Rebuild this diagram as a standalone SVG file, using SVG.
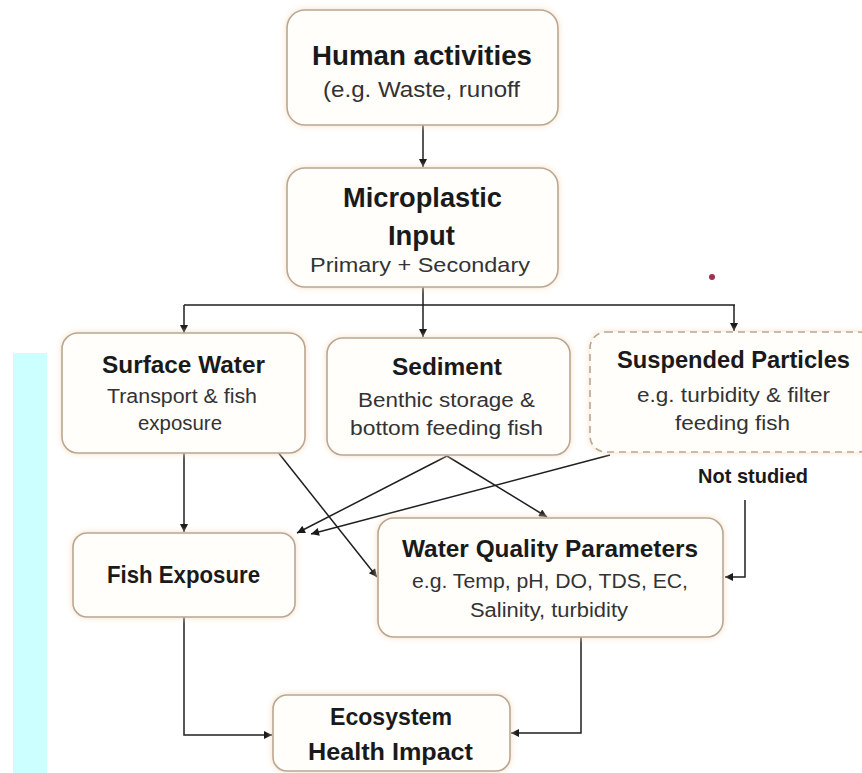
<svg xmlns="http://www.w3.org/2000/svg" width="862" height="773" viewBox="0 0 862 773">
<defs>
<filter id="glow" x="-10%" y="-10%" width="120%" height="120%">
<feDropShadow dx="0" dy="0" stdDeviation="3" flood-color="#f6dcc0" flood-opacity="0.9"/>
</filter>
<marker id="ah" viewBox="0 0 10 10" refX="10" refY="5" markerWidth="10" markerHeight="8" markerUnits="userSpaceOnUse" orient="auto">
<path d="M0,0 L10,5 L0,10 z" fill="#1a1a1a"/>
</marker>
<style>
.box{fill:#fffefb;stroke:#b9a792;stroke-width:1.6;filter:url(#glow)}
.dash{stroke-dasharray:7 5}
.b{font-family:"Liberation Sans",Arial,sans-serif;font-weight:bold;fill:#1a1a1a;text-anchor:middle}
.r{font-family:"Liberation Sans",Arial,sans-serif;fill:#333;text-anchor:middle}
.c{fill:none;stroke:#1f1f1f;stroke-width:1.5}
</style>
</defs>
<rect x="0" y="0" width="862" height="773" fill="#ffffff"/>
<rect x="13" y="353" width="34" height="420" fill="#ccffff"/>
<circle cx="712" cy="277" r="3" fill="#a0304f"/>

<g id="connectors">
<path class="c" d="M423,125 V167" marker-end="url(#ah)"/>
<path class="c" d="M423,287 V305 M184,305 H735"/>
<path class="c" d="M184,305 V333" marker-end="url(#ah)"/>
<path class="c" d="M423,305 V337" marker-end="url(#ah)"/>
<path class="c" d="M734,305 V331" marker-end="url(#ah)"/>
<path class="c" d="M184,453 V532" marker-end="url(#ah)"/>
<path class="c" d="M277,451 L377,577" marker-end="url(#ah)"/>
<path class="c" d="M447,456 L297,533" marker-end="url(#ah)"/>
<path class="c" d="M447,456 L547,517" marker-end="url(#ah)"/>
<path class="c" d="M610,455 L311,534" marker-end="url(#ah)"/>
<path class="c" d="M745,500 V577 H725" marker-end="url(#ah)"/>
<path class="c" d="M184,617 V735 H272" marker-end="url(#ah)"/>
<path class="c" d="M581,637 V733 H511" marker-end="url(#ah)"/>
</g>

<g id="human">
<rect class="box" x="287" y="10" width="271" height="115" rx="18"/>
<text class="b" x="422" y="65" font-size="27" textLength="220" lengthAdjust="spacingAndGlyphs">Human activities</text>
<text class="r" x="421.5" y="97" font-size="22" textLength="197" lengthAdjust="spacingAndGlyphs">(e.g. Waste, runoff</text>
</g>

<g id="microplastic">
<rect class="box" x="287" y="168" width="271" height="119" rx="18"/>
<text class="b" x="422.5" y="207" font-size="27" textLength="159" lengthAdjust="spacingAndGlyphs">Microplastic</text>
<text class="b" x="421.5" y="245" font-size="27" textLength="67" lengthAdjust="spacingAndGlyphs">Input</text>
<text class="r" x="420" y="272" font-size="21" textLength="220" lengthAdjust="spacingAndGlyphs">Primary + Secondary</text>
</g>

<g id="surface">
<rect class="box" x="62" y="333" width="243" height="120" rx="16"/>
<text class="b" x="183.5" y="373" font-size="24" textLength="163" lengthAdjust="spacingAndGlyphs">Surface Water</text>
<text class="r" x="182" y="403" font-size="20" textLength="150" lengthAdjust="spacingAndGlyphs">Transport &amp; fish</text>
<text class="r" x="180" y="430" font-size="20" textLength="84" lengthAdjust="spacingAndGlyphs">exposure</text>
</g>

<g id="sediment">
<rect class="box" x="327" y="338" width="243" height="117" rx="16"/>
<text class="b" x="447" y="375" font-size="24" textLength="110" lengthAdjust="spacingAndGlyphs">Sediment</text>
<text class="r" x="446.5" y="407" font-size="20" textLength="177" lengthAdjust="spacingAndGlyphs">Benthic storage &amp;</text>
<text class="r" x="446.5" y="435" font-size="20" textLength="193" lengthAdjust="spacingAndGlyphs">bottom feeding fish</text>
</g>

<g id="suspended">
<rect class="box dash" x="590" y="332" width="285" height="120" rx="16"/>
<text class="b" x="733.5" y="368" font-size="24" textLength="233" lengthAdjust="spacingAndGlyphs">Suspended Particles</text>
<text class="r" x="733.5" y="402" font-size="20" textLength="193" lengthAdjust="spacingAndGlyphs">e.g. turbidity &amp; filter</text>
<text class="r" x="732.5" y="430" font-size="20" textLength="115" lengthAdjust="spacingAndGlyphs">feeding fish</text>
</g>

<g id="not-studied">
<text class="b" x="753" y="483" font-size="21" textLength="110" lengthAdjust="spacingAndGlyphs">Not studied</text>
</g>

<g id="fish">
<rect class="box" x="73" y="533" width="222" height="84" rx="14"/>
<text class="b" x="183.5" y="583" font-size="24" textLength="153" lengthAdjust="spacingAndGlyphs">Fish Exposure</text>
</g>

<g id="water-quality">
<rect class="box" x="378" y="518" width="345" height="119" rx="16"/>
<text class="b" x="550" y="557" font-size="24" textLength="296" lengthAdjust="spacingAndGlyphs">Water Quality Parameters</text>
<text class="r" x="550" y="588" font-size="20" textLength="276" lengthAdjust="spacingAndGlyphs">e.g. Temp, pH, DO, TDS, EC,</text>
<text class="r" x="549" y="617" font-size="20" textLength="158" lengthAdjust="spacingAndGlyphs">Salinity, turbidity</text>
</g>

<g id="ecosystem">
<rect class="box" x="273" y="695" width="237" height="76" rx="14"/>
<text class="b" x="391" y="725" font-size="24" textLength="122" lengthAdjust="spacingAndGlyphs">Ecosystem</text>
<text class="b" x="390.5" y="760" font-size="24" textLength="165" lengthAdjust="spacingAndGlyphs">Health Impact</text>
</g>
</svg>
